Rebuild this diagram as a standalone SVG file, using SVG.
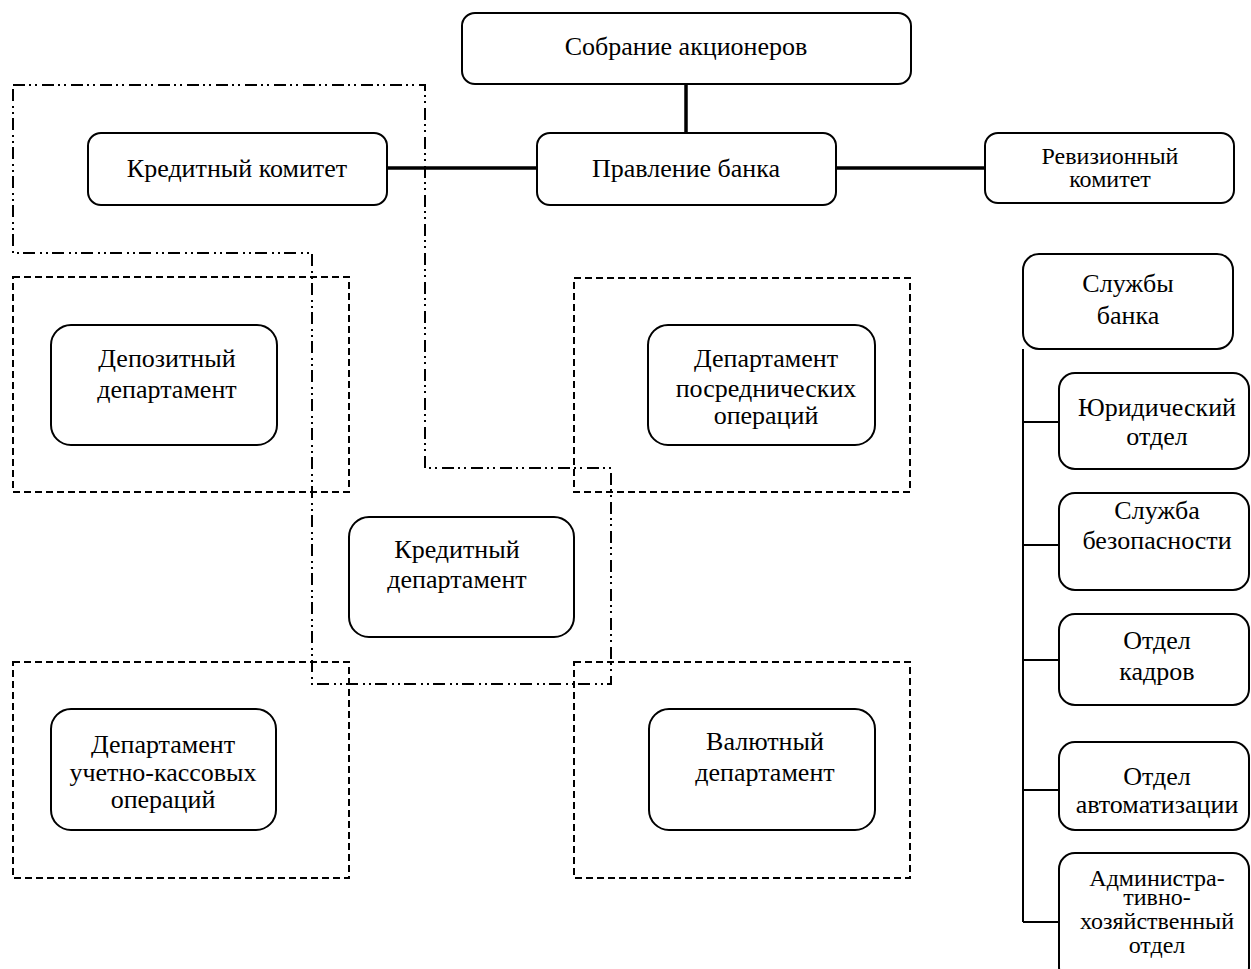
<svg xmlns="http://www.w3.org/2000/svg" width="1251" height="969" viewBox="0 0 1251 969">
  <style>
    text { font-family: "Liberation Serif", "Times New Roman", "DejaVu Serif", serif; font-size: 26px; fill: #000; text-anchor: middle; }
    .tight { font-size: 24px; }
    .box { fill: #fff; stroke: #000; stroke-width: 2; }
    .zone { fill: none; stroke: #000; stroke-width: 2; stroke-dasharray: 7 4; }
    .credit-zone { fill: none; stroke: #000; stroke-width: 2; stroke-dasharray: 12 4 2 4 2 5; }
    .link { fill: none; stroke: #000; stroke-width: 3.5; }
    .tree { fill: none; stroke: #000; stroke-width: 2; }
  </style>

  <rect width="1251" height="969" fill="#fff"/>

  <!-- department zones (dashed) -->
  <g id="zones">
    <rect class="zone" x="13" y="277" width="336" height="215"/>
    <rect class="zone" x="574" y="278" width="336" height="214"/>
    <rect class="zone" x="13" y="662" width="336" height="216"/>
    <rect class="zone" x="574" y="662" width="336" height="216"/>
  </g>

  <!-- credit area outline (dash-dot-dot) -->
  <g id="credit-area">
    <path class="credit-zone" d="M13,85 H425 V468 H611 V684 H312 V253 H13 Z"/>
  </g>

  <!-- connectors -->
  <g id="connectors">
    <line class="link" x1="686" y1="84" x2="686" y2="133"/>
    <line class="link" x1="387" y1="168" x2="537" y2="168"/>
    <line class="link" x1="836" y1="168" x2="985" y2="168"/>
    <path class="tree" d="M1023,349 V922"/>
    <line class="tree" x1="1023" y1="422" x2="1059" y2="422"/>
    <line class="tree" x1="1023" y1="545" x2="1059" y2="545"/>
    <line class="tree" x1="1023" y1="660" x2="1059" y2="660"/>
    <line class="tree" x1="1023" y1="790" x2="1059" y2="790"/>
    <line class="tree" x1="1023" y1="922" x2="1059" y2="922"/>
  </g>

  <g id="shareholders">
    <rect class="box" x="462" y="13" width="449" height="71" rx="13"/>
    <text x="686" y="55">Собрание акционеров</text>
  </g>

  <g id="board">
    <rect class="box" x="537" y="133" width="299" height="72" rx="13"/>
    <text x="686" y="177">Правление банка</text>
  </g>

  <g id="credit-committee">
    <rect class="box" x="88" y="133" width="299" height="72" rx="13"/>
    <text x="237" y="177">Кредитный комитет</text>
  </g>

  <g id="audit-committee">
    <rect class="box" x="985" y="133" width="249" height="70" rx="13"/>
    <text class="tight" x="1110" y="164">Ревизионный</text>
    <text class="tight" x="1110" y="187">комитет</text>
  </g>

  <g id="deposit-dept">
    <rect class="box" x="51" y="325" width="226" height="120" rx="20"/>
    <text x="167" y="367">Депозитный</text>
    <text x="167" y="398">департамент</text>
  </g>

  <g id="brokerage-dept">
    <rect class="box" x="648" y="325" width="227" height="120" rx="20"/>
    <text x="766" y="367">Департамент</text>
    <text x="766" y="397">посреднических</text>
    <text x="766" y="424">операций</text>
  </g>

  <g id="credit-dept">
    <rect class="box" x="349" y="517" width="225" height="120" rx="20"/>
    <text x="457" y="558">Кредитный</text>
    <text x="457" y="588">департамент</text>
  </g>

  <g id="cash-dept">
    <rect class="box" x="51" y="709" width="225" height="121" rx="20"/>
    <text x="163" y="753">Департамент</text>
    <text x="163" y="781">учетно-кассовых</text>
    <text x="163" y="808">операций</text>
  </g>

  <g id="currency-dept">
    <rect class="box" x="649" y="709" width="226" height="121" rx="20"/>
    <text x="765" y="750">Валютный</text>
    <text x="765" y="781">департамент</text>
  </g>

  <g id="bank-services">
    <rect class="box" x="1023" y="254" width="210" height="95" rx="16"/>
    <text x="1128" y="292">Службы</text>
    <text x="1128" y="324">банка</text>
  </g>

  <g id="legal">
    <rect class="box" x="1059" y="373" width="190" height="96" rx="16"/>
    <text x="1157" y="416">Юридический</text>
    <text x="1157" y="445">отдел</text>
  </g>

  <g id="security">
    <rect class="box" x="1059" y="493" width="190" height="97" rx="16"/>
    <text x="1157" y="519">Служба</text>
    <text x="1157" y="549">безопасности</text>
  </g>

  <g id="personnel">
    <rect class="box" x="1059" y="614" width="190" height="91" rx="16"/>
    <text x="1157" y="649">Отдел</text>
    <text x="1157" y="680">кадров</text>
  </g>

  <g id="automation">
    <rect class="box" x="1059" y="742" width="190" height="88" rx="16"/>
    <text x="1157" y="785">Отдел</text>
    <text x="1157" y="813">автоматизации</text>
  </g>

  <g id="administrative">
    <rect class="box" x="1059" y="853" width="190" height="130" rx="16"/>
    <text class="tight" x="1157" y="886">Администра-</text>
    <text class="tight" x="1157" y="905">тивно-</text>
    <text class="tight" x="1157" y="929">хозяйственный</text>
    <text class="tight" x="1157" y="953">отдел</text>
  </g>
</svg>
